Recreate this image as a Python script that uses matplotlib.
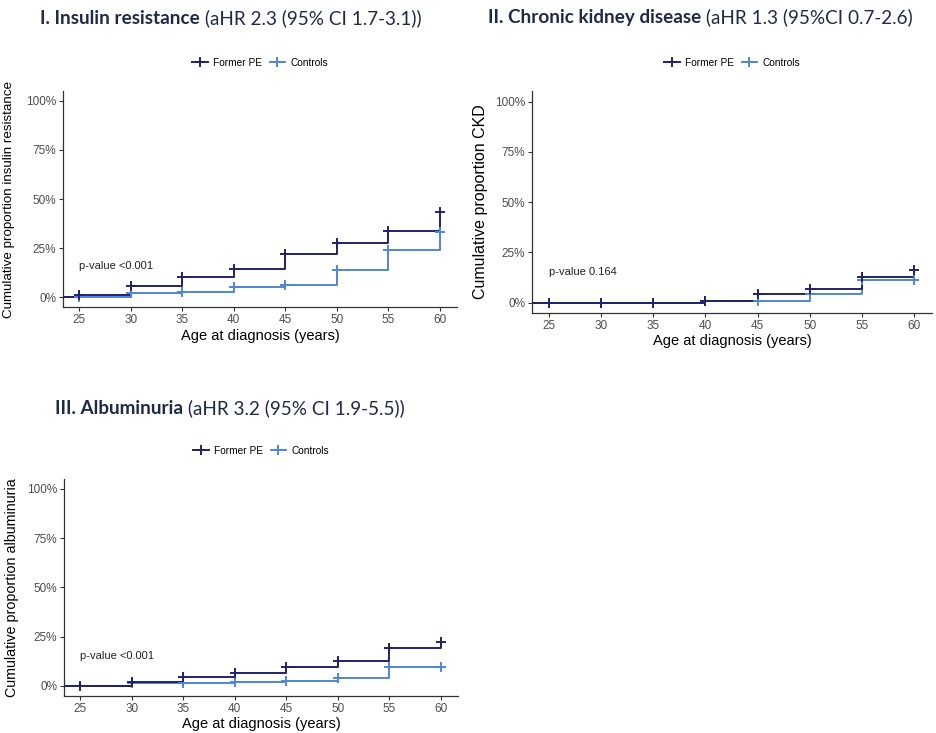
import numpy as np
import matplotlib
matplotlib.use('Agg')
from matplotlib import pyplot as plt
from matplotlib.ticker import FuncFormatter

plt.rcParams['font.family'] = ['Liberation Sans', 'DejaVu Sans']

# Ages at which the cumulative proportion is reported
Ages = [25, 30, 35, 40, 45, 50, 55, 60]

# I. Insulin resistance (%)
IR_former = [1.2, 5.8, 10.5, 14.3, 22.0, 27.5, 33.8, 43.6]
IR_controls = [0.0, 2.0, 2.7, 5.1, 6.3, 13.9, 24.1, 33.4]

# II. Chronic kidney disease (%)
CKD_former = [0.0, 0.0, 0.0, 0.8, 4.1, 7.0, 12.7, 16.4]
CKD_controls = [0.0, 0.0, 0.0, 0.8, 1.0, 4.5, 11.4, 11.4]

# III. Albuminuria (%)
ALB_former = [0.0, 2.0, 4.3, 6.3, 9.4, 12.7, 19.0, 22.4]
ALB_controls = [0.0, 1.4, 1.7, 2.2, 2.5, 3.9, 9.7, 9.7]

Groups = ['Former PE', 'Controls']
Colors = {'Former PE': '#22226c', 'Controls': '#4f86d6'}

Panels = [
    {'bold': 'I. Insulin resistance', 'rest': ' (aHR 2.3 (95% CI 1.7-3.1))',
     'ylabel': 'Cumulative proportion insulin resistance', 'ylab_size': 9.6,
     'ylab_x': -0.122,
     'pval': 'p-value <0.001', 'pval_y': 16,
     'data': {'Former PE': IR_former, 'Controls': IR_controls}},
    {'bold': 'II. Chronic kidney disease', 'rest': ' (aHR 1.3 (95%CI 0.7-2.6)',
     'ylabel': 'Cumulative proportion CKD', 'ylab_size': 11.5,
     'ylab_x': -0.11,
     'pval': 'p-value 0.164', 'pval_y': 15,
     'data': {'Former PE': CKD_former, 'Controls': CKD_controls}},
    {'bold': 'III. Albuminuria', 'rest': ' (aHR 3.2 (95% CI 1.9-5.5))',
     'ylabel': 'Cumulative proportion albuminuria', 'ylab_size': 10.3,
     'ylab_x': -0.115,
     'pval': 'p-value <0.001', 'pval_y': 15,
     'data': {'Former PE': ALB_former, 'Controls': ALB_controls}},
]

fig_width, fig_height = 9.36, 7.33
fig = plt.figure(figsize=(fig_width, fig_height), dpi=100)
W, H = 936, 733

# axes boxes in pixels: left, top, right, bottom
boxes = [(63, 91, 457, 307), (532, 91.5, 932, 312.7), (64, 479, 458, 695.7)]
# title positions (left x, center y) in pixels
title_pos = [(40, 18), (488, 17), (55, 408)]

axes = []
for box in boxes:
    l, t, r, b = box
    ax = fig.add_axes([l / W, 1 - b / H, (r - l) / W, (b - t) / H])
    axes.append(ax)


def pct(v, pos):
    return f'{v:.0f}%'


for ax, P in zip(axes, Panels):
    ax.set_xlim(23.4, 61.7)
    ax.set_ylim(-5, 105)
    x0 = ax.get_xlim()[0]
    for g in ['Controls', 'Former PE']:
        vals = P['data'][g]
        ax.step([x0] + Ages, [0] + vals, where='post', color=Colors[g],
                lw=1.4, zorder=3 if g == 'Former PE' else 2)
        ax.plot(Ages, vals, ls='none', marker='+', ms=7, mew=1.4,
                color=Colors[g], zorder=4)
    # legend handles
    hs = [ax.plot([], [], color=Colors[g], lw=1.4, marker='+', ms=7.5,
                  mew=1.4, label=g)[0] for g in Groups]
    ax.legend(handles=hs, loc='center', bbox_to_anchor=(0.5, 1.13), ncol=2,
              frameon=False, fontsize=7.3, handlelength=1.5,
              columnspacing=0.8, handletextpad=0.5)

    ax.set_xticks(Ages)
    ax.set_yticks([0, 25, 50, 75, 100])
    ax.yaxis.set_major_formatter(FuncFormatter(pct))
    ax.tick_params(labelsize=8.5, labelcolor='#4d4d4d', color='#333333',
                   length=3, width=0.8, pad=2)
    for s in ['top', 'right']:
        ax.spines[s].set_visible(False)
    for s in ['left', 'bottom']:
        ax.spines[s].set_color('#333333')
        ax.spines[s].set_linewidth(0.9)
    ax.set_xlabel('Age at diagnosis (years)', fontsize=10.5, labelpad=2)
    ax.set_ylabel(P['ylabel'], fontsize=P['ylab_size'])
    ax.yaxis.set_label_coords(P['ylab_x'], 0.5)
    ax.text(25, P['pval_y'], P['pval'], fontsize=8, va='center',
            ha='left', color='#222222')

# titles: bold part followed by normal part
renderer = fig.canvas.get_renderer()
title_col = '#1e2a47'
for (tx, ty), P in zip(title_pos, Panels):
    t1 = fig.text(tx / W, 1 - ty / H, P['bold'], fontsize=13.6,
                  fontweight='bold', family=['Lato', 'DejaVu Sans'],
                  color=title_col, va='center', ha='left')
    bb = t1.get_window_extent(renderer)
    fig.text(bb.x1 / W, 1 - ty / H, P['rest'], fontsize=13.6,
             family=['Lato', 'DejaVu Sans'], color=title_col,
             va='center', ha='left')

plt.savefig('out.png', dpi=100)
